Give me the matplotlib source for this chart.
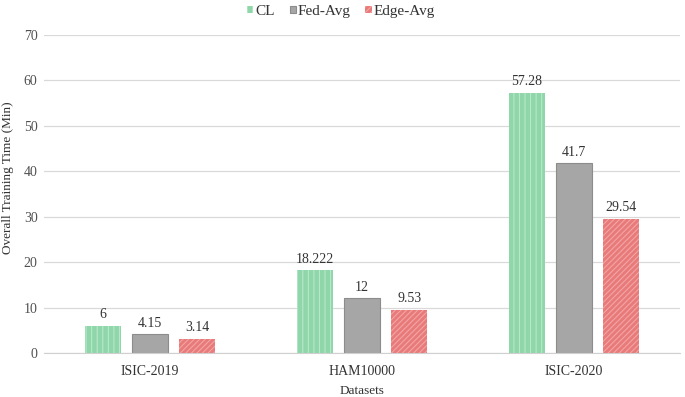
import matplotlib
matplotlib.use("Agg")
import matplotlib.pyplot as plt
import numpy as np

plt.rcParams['font.family'] = ['Liberation Serif', 'DejaVu Serif']
plt.rcParams['hatch.linewidth'] = 0.8

datasets = ["ISIC-2019", "HAM10000", "ISIC-2020"]
series_names = ["CL", "Fed-Avg", "Edge-Avg"]
cl = [6, 18.222, 57.28]
fedavg = [4.15, 12, 41.7]
edgeavg = [3.14, 9.53, 29.54]
cl_labels = ["6", "18.222", "57.28"]
fed_labels = ["4.15", "12", "41.7"]
edge_labels = ["3.14", "9.53", "29.54"]

fig = plt.figure(figsize=(6.85, 3.97), dpi=100)
ax = fig.add_axes([0.064, 0.111, 0.929, 0.801])

x = np.arange(len(datasets))
w = 0.172
off = 0.222
styles = [
    dict(color="#8fd6aa", edgecolor="#b8e8c8", hatch="|||", linewidth=0),
    dict(color="#a6a6a6", edgecolor="#8c8c8c", linewidth=0.8),
    dict(color="#e87a7a", edgecolor="#f2a5a5", hatch="//////", linewidth=0),
]
vals = [cl, fedavg, edgeavg]
labs = [cl_labels, fed_labels, edge_labels]
for i, (v, st, lb, name) in enumerate(zip(vals, styles, labs, series_names)):
    bars = ax.bar(x + (i - 1) * off, v, w, label=name, zorder=3, **st)
    for b, t in zip(bars, lb):
        ax.text(b.get_x() + b.get_width() / 2, b.get_height() + 1.0, t,
                ha="center", va="bottom", fontsize=10, color="#333333")

ax.set_xlim(-0.5, 2.5)
ax.set_ylim(0, 70)
ax.set_yticks(range(0, 71, 10))
ax.set_xticks(x)
ax.set_xticklabels(datasets, fontsize=10, color="#333333")
ax.tick_params(axis="y", labelsize=10, colors="#505050", length=0, pad=4.5)
ax.tick_params(axis="x", length=0, pad=9)
ax.grid(axis="y", color="#d9d9d9", linewidth=0.9, zorder=0)
for s in ["top", "right", "left"]:
    ax.spines[s].set_visible(False)
ax.spines["bottom"].set_color("#d0d0d0")
ax.spines["bottom"].set_zorder(4)
ax.set_xlabel("Datasets", fontsize=9.5, color="#333333", labelpad=5)
ax.set_ylabel("Overall Training Time (Min)", fontsize=9.5, color="#333333")
ax.yaxis.set_label_coords(-0.047, 0.55)

leg = fig.legend(loc="upper center", bbox_to_anchor=(0.498, 1.022), ncol=3, frameon=False,
                 fontsize=11, handlelength=0.4, handleheight=0.4, handletextpad=0.15,
                 columnspacing=0.95, labelcolor="#333333")

fig.savefig("out.png", dpi=100)
